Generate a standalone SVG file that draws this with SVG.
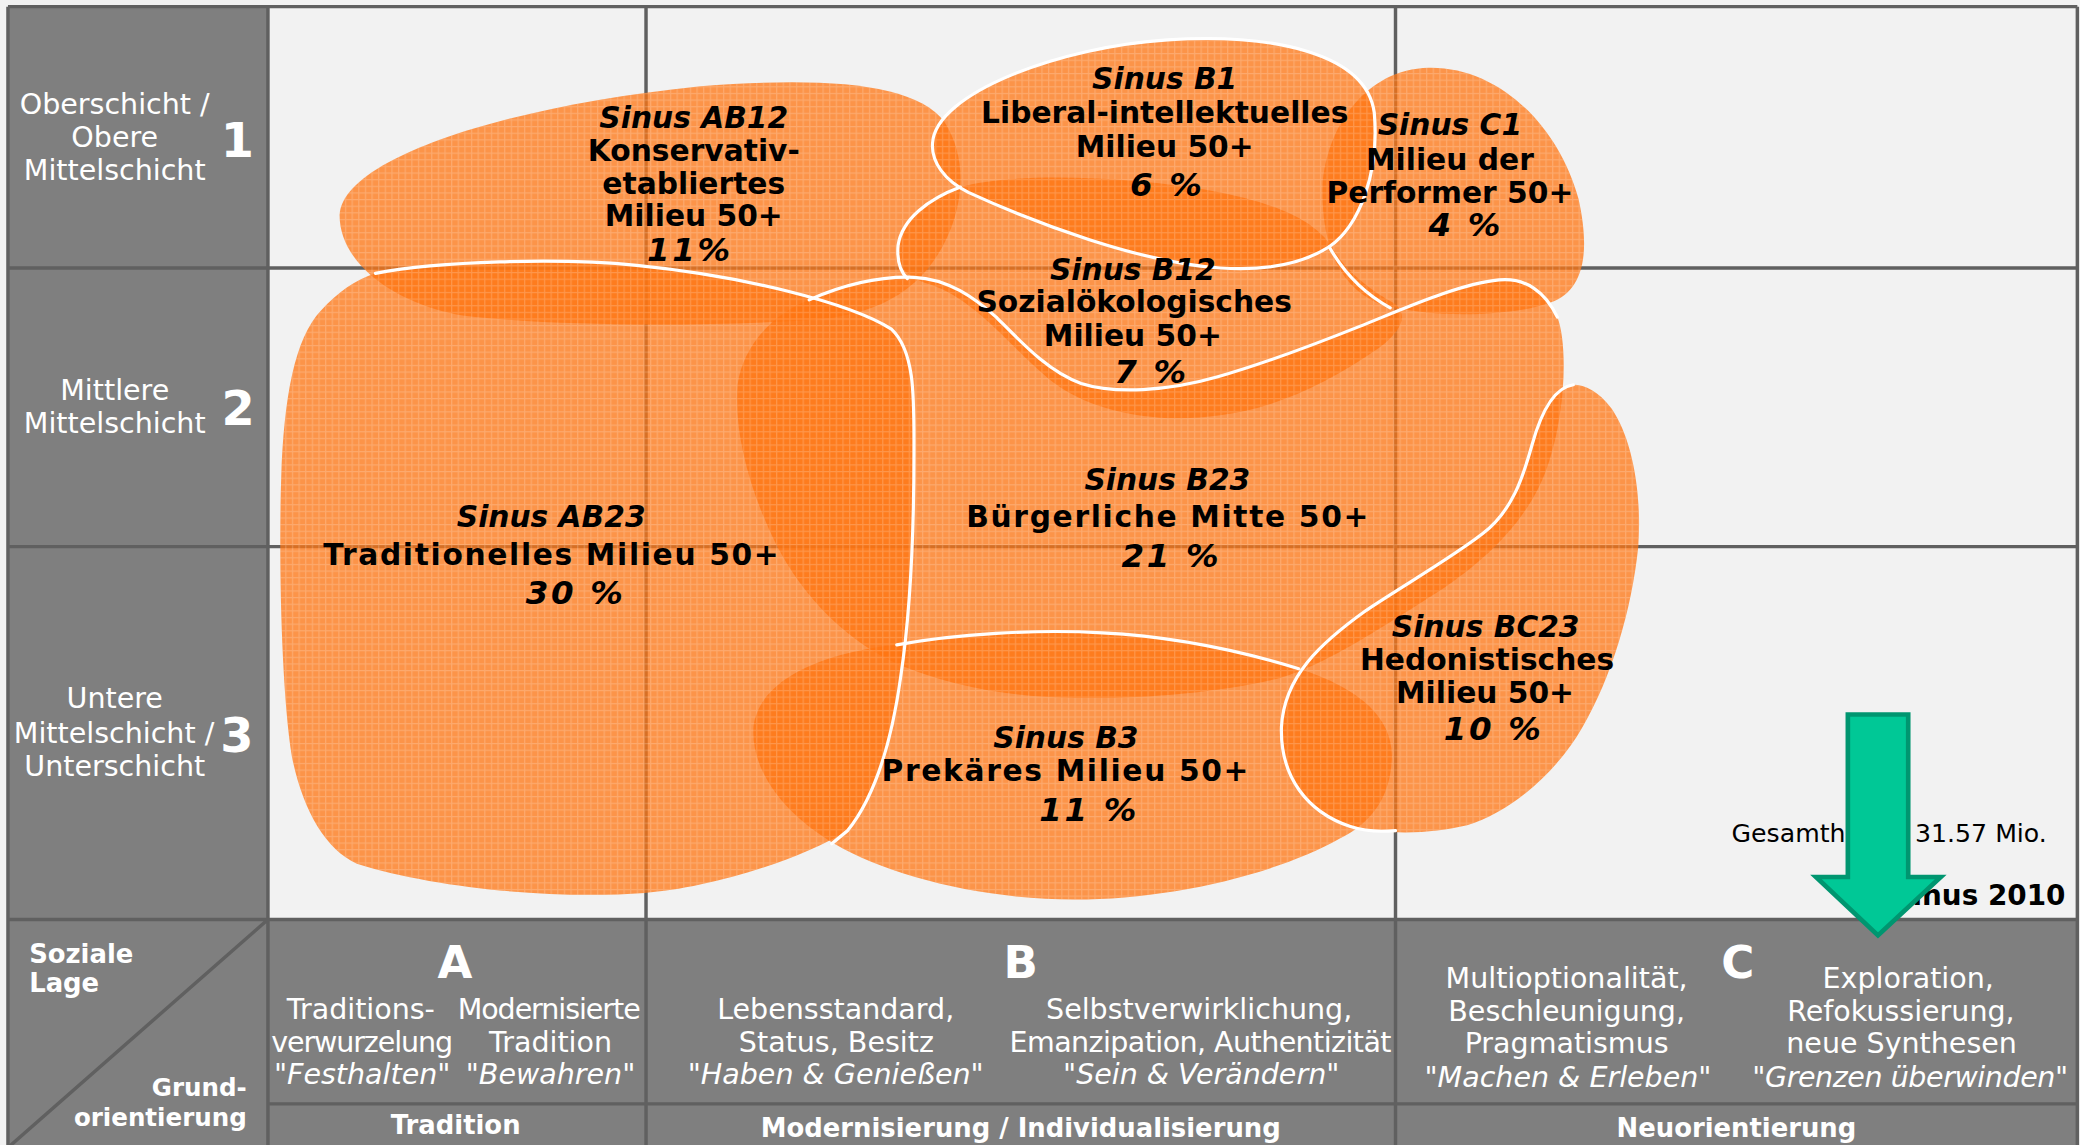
<svg xmlns="http://www.w3.org/2000/svg" width="2080" height="1145" viewBox="0 0 2080 1145">
<defs>
<style>
.grid{stroke:#606060;stroke-width:2.6;fill:none}
.blob{fill:#ff7410;fill-opacity:0.75}
.edge{fill:none;stroke:#ffffff;stroke-width:2.4;stroke-linecap:round}
.lbl{font-family:"DejaVu Sans",Verdana,sans-serif;font-weight:bold;font-size:22.4px;fill:#000;text-anchor:middle}
.it{font-style:italic}
.sp{letter-spacing:1.25px}
.pc{font-style:italic;font-size:24.5px;letter-spacing:2px}
.wt{font-family:"DejaVu Sans",Verdana,sans-serif;fill:#fff;font-size:21.5px;text-anchor:middle}
.wb{font-family:"DejaVu Sans",Verdana,sans-serif;fill:#fff;font-weight:bold;text-anchor:middle}
.num{font-size:36px}
.let{font-size:34px}
.row{font-size:19.5px}
</style>
<path id="p-ab12" d="M 256,162 C 258,120 380,80 528,65 C 620,58 690,62 712,92 C 730,120 728,160 705,195 C 680,232 640,240 600,242 C 520,246 420,246 350,238 C 300,230 256,200 256,162 Z"/>
<path id="p-b1" d="M 703,108 C 705,70 800,35 880,30 C 960,25 1030,40 1036,85 C 1040,130 1025,170 1002,186 C 980,200 950,204 920,202 C 860,198 780,168 730,145 C 712,136 702,122 703,108 Z"/>
<path id="p-c1" d="M 1077,51 C 1130,50 1175,95 1190,150 C 1200,195 1192,222 1166,229 C 1140,238 1080,241 1040,229 C 1008,216 996,182 997,140 C 1000,95 1030,52 1077,51 Z"/>
<path id="p-b12" d="M 724,141 C 760,130 850,132 920,145 C 970,155 995,170 1005,188 C 1015,205 1035,220 1050,228 C 1062,236 1058,248 1040,262 C 1000,290 960,308 920,313 C 870,320 820,310 790,285 C 760,260 735,225 700,214 C 680,208 676,198 677,185 C 680,165 700,150 724,141 Z"/>
<path id="p-b23" d="M 610,226 C 635,215 660,208 689,209 C 715,210 735,225 751,239 C 770,258 790,280 815,289 C 840,297 880,295 918,284 C 960,272 1000,256 1025,246 C 1060,232 1100,214 1130,211 C 1150,209 1165,220 1174,239 C 1182,260 1180,310 1168,347 C 1155,390 1120,425 1070,455 C 1030,480 1000,500 965,511 C 920,522 860,527 810,526 C 760,525 720,518 680,502 C 640,485 605,450 585,410 C 565,370 553,325 556,290 C 560,262 580,238 610,226 Z"/>
<path id="p-ab23" d="M 283,206 C 330,197 420,194 480,200 C 560,208 640,228 672,248 C 690,265 689,300 689,340 C 689,420 685,470 679,510 C 672,560 660,600 639,626 C 600,650 530,670 486,673 C 420,678 330,670 269,651 C 245,640 228,610 220,570 C 212,520 210,420 212,360 C 214,300 222,255 242,234 C 255,220 268,211 283,206 Z"/>
<path id="p-b3" d="M 568,548 C 572,512 620,492 676,486 C 720,478 780,474 831,477 C 890,480 940,492 979,504 C 1030,520 1052,545 1049,575 C 1047,605 1030,622 1010,632 C 960,660 880,678 810,678 C 740,678 670,660 629,636 C 592,614 566,582 568,548 Z"/>
<path id="p-bc23" d="M 1186,290 C 1172,292 1162,310 1155,335 C 1148,360 1140,385 1118,402 C 1095,420 1060,440 1030,460 C 995,485 968,510 966,548 C 965,585 985,612 1018,623 C 1050,630 1080,628 1106,622 C 1140,612 1175,580 1193,548 C 1215,510 1230,460 1235,412 C 1238,370 1230,330 1215,308 C 1205,295 1195,290 1186,290 Z"/>
<pattern id="hatch" width="5" height="5" patternUnits="userSpaceOnUse">
  <path d="M0,0.5 H5 M0.5,0 V5" stroke="#ffffff" stroke-opacity="0.2" stroke-width="0.9" fill="none"/>
</pattern>
<clipPath id="blobclip">
  <use href="#p-ab12"/><use href="#p-b1"/><use href="#p-c1"/><use href="#p-b12"/>
  <use href="#p-b23"/><use href="#p-ab23"/><use href="#p-b3"/><use href="#p-bc23"/>
</clipPath>
</defs>
<rect width="2080" height="1145" fill="#f2f2f2"/>
<g transform="scale(1.32653,1.32677)">
  <g id="frame">
    <rect x="6" y="5" width="196" height="860" fill="#7f7f7f"/>
    <rect x="6" y="693" width="1560" height="172" fill="#7f7f7f"/>
    <path class="grid" d="M6,5 H1566 M6,5 V865 M1566,5 V865 M6,202 H1566 M6,412 H1566 M6,693 H1566 M202,832 H1566 M202,5 V865 M487,5 V865 M1052,5 V865 M202,693 L6,865"/>
  </g>

  <g id="blobs">
    <use id="shape-ab12" class="blob" href="#p-ab12"/>
    <use id="shape-b1" class="blob" href="#p-b1"/>
    <use id="shape-c1" class="blob" href="#p-c1"/>
    <use id="shape-b12" class="blob" href="#p-b12"/>
    <use id="shape-b23" class="blob" href="#p-b23"/>
    <use id="shape-ab23" class="blob" href="#p-ab23"/>
    <use id="shape-b3" class="blob" href="#p-b3"/>
    <use id="shape-bc23" class="blob" href="#p-bc23"/>
    <rect x="200" y="0" width="1100" height="700" fill="url(#hatch)" clip-path="url(#blobclip)"/>
  </g>

  <g id="outlines">
    <path class="edge" d="M 283,206 C 330,197 420,194 480,200 C 560,208 640,228 672,248 C 690,265 689,300 689,340 C 689,420 685,470 679,510 C 672,560 660,600 639,626 L 627,636"/>
    <path class="edge" d="M 610,226 C 635,215 660,208 689,209 C 715,210 735,225 751,239 C 770,258 790,280 815,289 C 840,297 880,295 918,284 C 960,272 1000,256 1025,246 C 1060,232 1100,214 1130,211 C 1150,209 1165,220 1174,239"/>
    <path class="edge" d="M 703,108 C 705,70 800,35 880,30 C 960,25 1030,40 1036,85 C 1040,130 1025,170 1002,186 C 980,200 950,204 920,202 C 860,198 780,168 730,145 C 712,136 702,122 703,108 Z"/>
    <path class="edge" d="M 724,141 C 700,150 680,165 677,185 C 676,197 679,205 684,210"/>
    <path class="edge" d="M 1002,186 C 1011,202 1026,220 1048,232"/>
    <path class="edge" d="M 676,486 C 720,478 780,474 831,477 C 890,480 940,492 979,504"/>
    <path class="edge" d="M 1186,290 C 1172,292 1162,310 1155,335 C 1148,360 1140,385 1118,402 C 1095,420 1060,440 1030,460 C 995,485 968,510 966,548 C 965,585 985,612 1018,623 C 1030,627 1042,627 1052,626"/>
  </g>

  <g id="node-ab12">
    <text class="lbl it" x="523" y="96.5">Sinus AB12</text>
    <text class="lbl" x="523" y="121.5">Konservativ-</text>
    <text class="lbl" x="523" y="146">etabliertes</text>
    <text class="lbl" x="523" y="170">Milieu 50+</text>
    <text class="lbl pc" x="520" y="197" font-size="23">11%</text>
  </g>
  <g id="node-b1">
    <text class="lbl it" x="878" y="67">Sinus B1</text>
    <text class="lbl" x="878" y="93">Liberal-intellektuelles</text>
    <text class="lbl" x="878" y="118.5">Milieu 50+</text>
    <text class="lbl pc" x="880" y="148">6 %</text>
  </g>
  <g id="node-c1">
    <text class="lbl it" x="1093" y="102">Sinus C1</text>
    <text class="lbl" x="1093" y="128">Milieu der</text>
    <text class="lbl" x="1093" y="153">Performer 50+</text>
    <text class="lbl pc" x="1105" y="178">4 %</text>
  </g>
  <g id="node-b12">
    <text class="lbl it" x="854" y="211">Sinus B12</text>
    <text class="lbl" x="855" y="235">Sozialökologisches</text>
    <text class="lbl" x="854" y="261">Milieu 50+</text>
    <text class="lbl pc" x="868" y="288.5">7 %</text>
  </g>
  <g id="node-b23">
    <text class="lbl it" x="880" y="369">Sinus B23</text>
    <text class="lbl sp" x="880.6" y="397">Bürgerliche Mitte 50+</text>
    <text class="lbl pc" x="883" y="427.5">21 %</text>
  </g>
  <g id="node-ab23">
    <text class="lbl it" x="415.5" y="397">Sinus AB23</text>
    <text class="lbl sp" x="416" y="426">Traditionelles Milieu 50+</text>
    <text class="lbl pc" x="434" y="455">30 %</text>
  </g>
  <g id="node-b3">
    <text class="lbl it" x="803.5" y="563.5">Sinus B3</text>
    <text class="lbl sp" x="803.5" y="589">Prekäres Milieu 50+</text>
    <text class="lbl pc" x="821" y="619">11 %</text>
  </g>
  <g id="node-bc23">
    <text class="lbl it" x="1120" y="480">Sinus BC23</text>
    <text class="lbl" x="1121" y="505">Hedonistisches</text>
    <text class="lbl" x="1119.5" y="530">Milieu 50+</text>
    <text class="lbl pc" x="1126" y="558">10 %</text>
  </g>

  <g id="row-labels">
    <text class="wt" x="86.5" y="86" font-size="22">Oberschicht /</text>
    <text class="wt" x="86.5" y="111" font-size="22">Obere</text>
    <text class="wt" x="86.5" y="136" font-size="22">Mittelschicht</text>
    <text class="wb num" x="179" y="118">1</text>
    <text class="wt" x="86.5" y="301.5" font-size="22">Mittlere</text>
    <text class="wt" x="86.5" y="326" font-size="22">Mittelschicht</text>
    <text class="wb num" x="179.5" y="320">2</text>
    <text class="wt" x="86.5" y="534" font-size="22">Untere</text>
    <text class="wt" x="86" y="560" font-size="22">Mittelschicht /</text>
    <text class="wt" x="86.5" y="585" font-size="22">Unterschicht</text>
    <text class="wb num" x="178.5" y="567">3</text>
  </g>

  <g id="corner-labels">
    <text class="wb" x="22" y="726" font-size="19.5" style="text-anchor:start">Soziale</text>
    <text class="wb" x="22" y="748" font-size="19.5" style="text-anchor:start">Lage</text>
    <text class="wb" x="186" y="826" font-size="18.5" style="text-anchor:end">Grund-</text>
    <text class="wb" x="186" y="849" font-size="18.5" style="text-anchor:end">orientierung</text>
  </g>

  <g id="column-a">
    <text class="wb let" x="343" y="737">A</text>
    <text class="wt" x="272" y="768">Traditions-</text>
    <text class="wt" x="273" y="793" textLength="137">verwurzelung</text>
    <text class="wt it" x="273" y="817">"Festhalten"</text>
    <text class="wt" x="414" y="768" textLength="138">Modernisierte</text>
    <text class="wt" x="415" y="793">Tradition</text>
    <text class="wt it" x="415" y="817">"Bewahren"</text>
    <text class="wb row" x="343.5" y="855">Tradition</text>
  </g>
  <g id="column-b">
    <text class="wb let" x="769.5" y="737">B</text>
    <text class="wt" x="630" y="768">Lebensstandard,</text>
    <text class="wt" x="630.5" y="793">Status, Besitz</text>
    <text class="wt it" x="630" y="817">"Haben &amp; Genießen"</text>
    <text class="wt" x="904" y="768">Selbstverwirklichung,</text>
    <text class="wt" x="905" y="793" textLength="288">Emanzipation, Authentizität</text>
    <text class="wt it" x="905.5" y="817">"Sein &amp; Verändern"</text>
    <text class="wb row" x="769.5" y="857">Modernisierung / Individualisierung</text>
  </g>
  <g id="column-c">
    <text class="wb let" x="1310" y="737">C</text>
    <text class="wt" x="1181" y="745">Multioptionalität,</text>
    <text class="wt" x="1181" y="769.5">Beschleunigung,</text>
    <text class="wt" x="1181" y="794">Pragmatismus</text>
    <text class="wt it" x="1182" y="819">"Machen &amp; Erleben"</text>
    <text class="wt" x="1438.5" y="745">Exploration,</text>
    <text class="wt" x="1433" y="769.5">Refokussierung,</text>
    <text class="wt" x="1433.5" y="794">neue Synthesen</text>
    <text class="wt it" x="1440" y="819" textLength="238">"Grenzen überwinden"</text>
    <text class="wb row" x="1309" y="857">Neuorientierung</text>
  </g>

  <g id="notes">
    <text x="1543" y="634.5" font-family="DejaVu Sans, Verdana, sans-serif" font-size="19" fill="#000" text-anchor="end">Gesamtheit = 31.57 Mio.</text>
    <text x="1557" y="682" font-family="DejaVu Sans, Verdana, sans-serif" font-size="21" font-weight="bold" fill="#000" text-anchor="end">Sinus 2010</text>
  </g>

  <g id="connectors">
    <polygon points="1393,538.5 1438.5,538.5 1438.5,661 1463,661 1415.7,705 1369,661 1393,661" fill="#00c896" stroke="#009670" stroke-width="3.5" stroke-linejoin="miter"/>
  </g>
</g>
</svg>
